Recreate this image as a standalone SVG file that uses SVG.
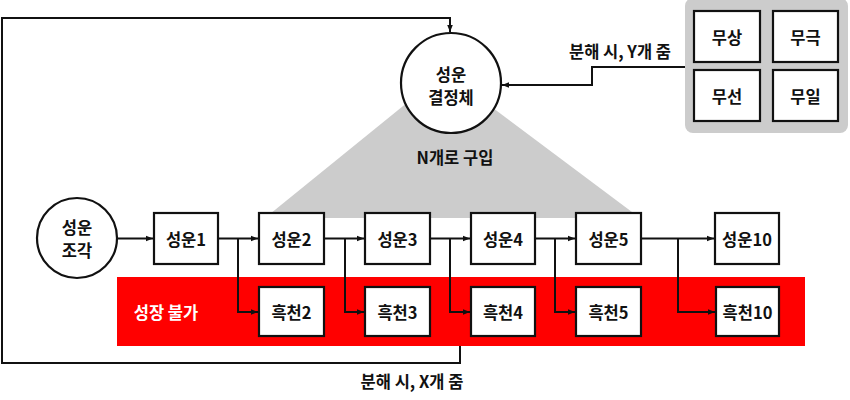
<svg xmlns="http://www.w3.org/2000/svg" width="850" height="400" viewBox="0 0 850 400">
<style>
text{font-family:"Noto Sans CJK KR","Noto Sans",sans-serif;font-weight:700;font-size:16.5px;fill:#111;text-anchor:middle;dominant-baseline:central}
.box{fill:#fff;stroke:#111;stroke-width:2.2}
.ln{fill:none;stroke:#111;stroke-width:2}
.wt{fill:#fff}
</style>
<defs>
<marker id="ah" viewBox="0 0 10 10" refX="10" refY="5" markerWidth="7" markerHeight="7" markerUnits="userSpaceOnUse" orient="auto">
<path d="M0,1 L10,5 L0,9 z" fill="#111"/>
</marker>
</defs>
<rect x="685" y="-2" width="163" height="135" rx="8" fill="#cccccc"/>
<polygon points="445,72 265,218 640,218" fill="#cccccc"/>
<rect x="117" y="277" width="688" height="69" fill="#ff0000"/>
<text x="166" y="312" class="wt">성장 불가</text>
<text x="455" y="157">N개로 구입</text>
<text x="620" y="51">분해 시, Y개 줌</text>
<text x="412" y="381">분해 시, X개 줌</text>
<g id="connectors">
<polyline class="ln" points="460,346 460,363 2,363 2,18 450,18 450,32" marker-end="url(#ah)"/>
<polyline class="ln" points="685,67 592,67 592,85 502,85" marker-end="url(#ah)"/>
<line class="ln" x1="117" y1="238.5" x2="153" y2="238.5" marker-end="url(#ah)"/>
<line class="ln" x1="218" y1="238.5" x2="258" y2="238.5" marker-end="url(#ah)"/>
<polyline class="ln" points="238,238.5 238,312 258,312" marker-end="url(#ah)"/>
<line class="ln" x1="324" y1="238.5" x2="364" y2="238.5" marker-end="url(#ah)"/>
<polyline class="ln" points="345,238.5 345,312 364,312" marker-end="url(#ah)"/>
<line class="ln" x1="430" y1="238.5" x2="470" y2="238.5" marker-end="url(#ah)"/>
<polyline class="ln" points="450,238.5 450,312 470,312" marker-end="url(#ah)"/>
<line class="ln" x1="535" y1="238.5" x2="575" y2="238.5" marker-end="url(#ah)"/>
<polyline class="ln" points="555,238.5 555,312 575,312" marker-end="url(#ah)"/>
<line class="ln" x1="641" y1="238.5" x2="714" y2="238.5" marker-end="url(#ah)"/>
<polyline class="ln" points="678,238.5 678,312 715,312" marker-end="url(#ah)"/>
</g>
<g id="crystal"><circle cx="451" cy="83" r="50" class="box"/><text x="451" y="74">성운</text><text x="451" y="97">결정체</text></g>
<g id="fragment"><circle cx="77" cy="238" r="40" class="box"/><text x="77" y="227">성운</text><text x="77" y="250">조각</text></g>
<g id="s1"><rect x="154" y="213" width="64" height="51" class="box"/><text x="186" y="239">성운1</text></g>
<g id="s2"><rect x="259" y="213" width="65" height="51" class="box"/><text x="291.5" y="239">성운2</text></g>
<g id="s3"><rect x="365" y="213" width="65" height="51" class="box"/><text x="397.5" y="239">성운3</text></g>
<g id="s4"><rect x="471" y="213" width="64" height="51" class="box"/><text x="503" y="239">성운4</text></g>
<g id="s5"><rect x="576" y="213" width="65" height="51" class="box"/><text x="608.5" y="239">성운5</text></g>
<g id="s10"><rect x="715" y="213" width="64" height="51" class="box"/><text x="747" y="239">성운10</text></g>
<g id="h2"><rect x="259" y="287" width="65" height="49" class="box"/><text x="291.5" y="312">흑천2</text></g>
<g id="h3"><rect x="365" y="287" width="65" height="49" class="box"/><text x="397.5" y="312">흑천3</text></g>
<g id="h4"><rect x="471" y="287" width="64" height="49" class="box"/><text x="503" y="312">흑천4</text></g>
<g id="h5"><rect x="576" y="287" width="65" height="49" class="box"/><text x="608.5" y="312">흑천5</text></g>
<g id="h10"><rect x="716" y="287" width="63" height="49" class="box"/><text x="747.5" y="312">흑천10</text></g>
<g id="m1"><rect x="694" y="11" width="66" height="51" class="box"/><text x="727" y="37">무상</text></g>
<g id="m2"><rect x="773" y="11" width="65" height="51" class="box"/><text x="805.5" y="37">무극</text></g>
<g id="m3"><rect x="694" y="70" width="66" height="51" class="box"/><text x="727" y="96">무선</text></g>
<g id="m4"><rect x="773" y="70" width="65" height="51" class="box"/><text x="805.5" y="96">무일</text></g>
</svg>
